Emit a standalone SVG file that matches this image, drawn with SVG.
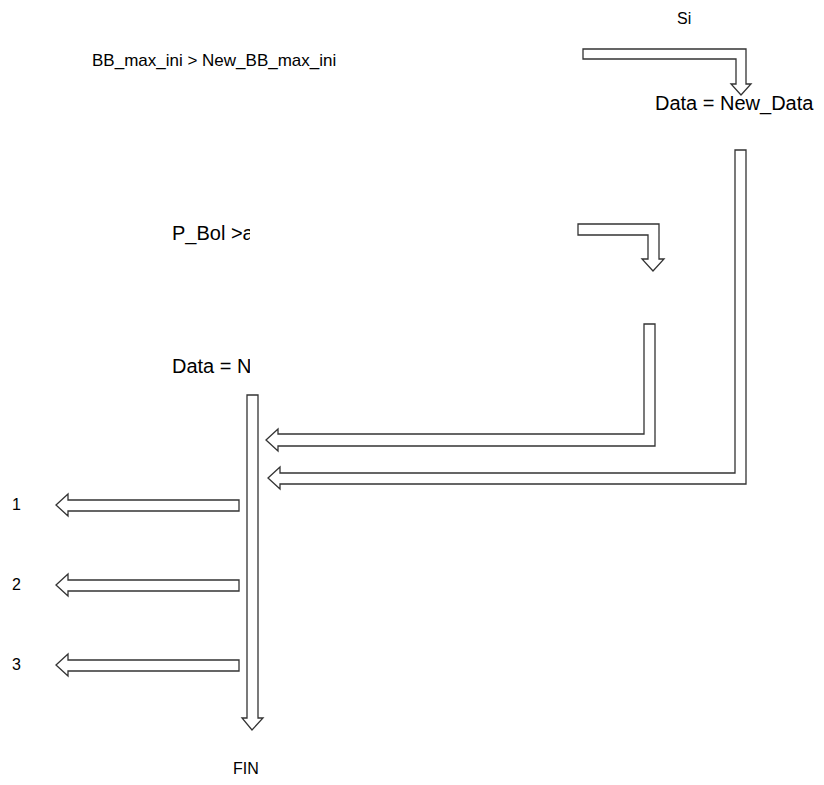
<svg xmlns="http://www.w3.org/2000/svg" width="824" height="785" viewBox="0 0 824 785">
<defs>
<style>
.t{font-family:"Liberation Sans",Arial,sans-serif;font-size:16px;fill:#000}
.big{font-size:20px}
.a{fill:#fff;stroke:#333;stroke-width:1.3;stroke-linejoin:miter}
</style>
<clipPath id="clipBox"><rect x="160" y="200" width="90" height="200"/></clipPath>
</defs>
<rect width="824" height="785" fill="#fff"/>
<g id="labels">
<g id="n-si"><text class="t" x="677" y="24">Si</text></g>
<g id="n-cond1"><text class="t" x="92" y="66" style="font-size:17px">BB_max_ini &gt; New_BB_max_ini</text></g>
<g id="n-data1"><text class="t big" x="655" y="110">Data = New_Data</text></g>
<g id="n-cond2" clip-path="url(#clipBox)"><text class="t big" x="172" y="240">P_Bol &gt;a</text></g>
<g id="n-data2" clip-path="url(#clipBox)"><text class="t big" x="172" y="373">Data = N</text></g>
<g id="n-1"><text class="t" x="12" y="510">1</text></g>
<g id="n-2"><text class="t" x="12" y="590">2</text></g>
<g id="n-3"><text class="t" x="12" y="670">3</text></g>
<g id="n-fin"><text class="t" x="233" y="774">FIN</text></g>
</g>
<g id="connectors">
<polygon class="a" points="583,49 746,49 746,84 751,84 741,95 731,84 736,84 736,59 583,59"/>
<polygon class="a" points="578,224 659,224 659,259 664,259 653,271 642,259 648,259 648,235 578,235"/>
<polygon class="a" points="644,324 655,324 655,446 278,446 278,451 266,440 278,429 278,434 644,434"/>
<polygon class="a" points="735,150 746,150 746,484 280,484 280,489 268,478 280,467 280,473 735,473"/>
<polygon class="a" points="247,395 258,395 258,718 263,718 252,730 242,718 247,718"/>
<polygon class="a" points="239,500 239,511 68,511 68,516 56,505 68,494 68,500"/>
<polygon class="a" points="239,580 239,591 68,591 68,596 56,585 68,574 68,580"/>
<polygon class="a" points="239,660 239,671 68,671 68,676 56,665 68,654 68,660"/>
</g>
</svg>
